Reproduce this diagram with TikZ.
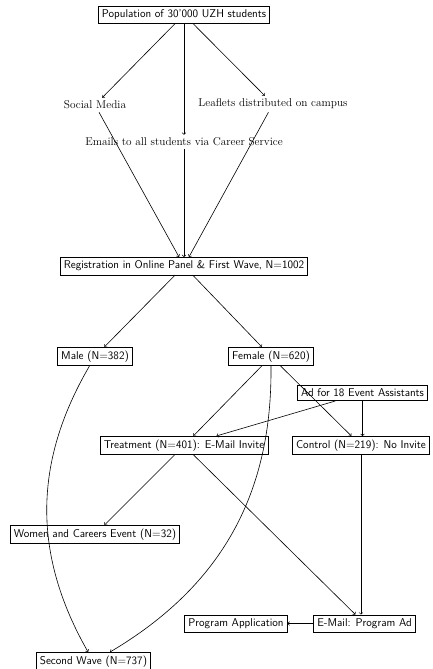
\documentclass[tikz,border=0pt]{standalone}
\begin{document}
\begin{tikzpicture}[x=1pt,y=1pt,
  box/.style={draw,semithick,font=\fontsize{11.3}{13}\sffamily,inner sep=3.6pt},
  lab/.style={font=\fontsize{11.3}{13}\rmfamily,inner sep=3pt},
  arr/.style={->,semithick}]
\useasboundingbox (0,0) rectangle (432,-669);
\node[box] (pop) at (184,-14.5) {Population of 30'000 UZH students};
\node[lab] (sm) at (95,-105) {Social Media};
\node[lab] (leaf) at (273,-104) {Leaflets distributed on campus};
\node[lab] (email) at (184,-142) {Emails to all students via Career Service};
\node[box] (reg) at (184,-266) {Registration in Online Panel \& First Wave, N=1002};
\node[box] (male) at (95,-356.5) {Male (N=382)};
\node[box] (female) at (271,-356.5) {Female (N=620)};
\node[box] (ad) at (362.5,-393) {Ad for 18 Event Assistants};
\node[box] (treat) at (184,-445.5) {Treatment (N=401): E-Mail Invite};
\node[box] (control) at (361,-445.5) {Control (N=219): No Invite};
\node[box] (women) at (95,-534.5) {Women and Careers Event (N=32)};
\node[box] (progapp) at (236,-623.5) {Program Application};
\node[box] (emailad) at (364.5,-623.5) {E-Mail: Program Ad};
\node[box] (sw) at (93.5,-661.5) {Second Wave (N=737)};
\draw[arr] (pop) -- (sm);
\draw[arr] (pop) -- (email);
\draw[arr] (pop) -- (leaf);
\draw[arr] (sm) -- (reg);
\draw[arr] (email) -- (reg);
\draw[arr] (leaf) -- (reg);
\draw[arr] (reg) -- (male);
\draw[arr] (reg) -- (female);
\draw[arr] (male) to[bend right=30] (sw);
\draw[arr] (female) to[bend left=30] (sw);
\draw[arr] (female) -- (treat);
\draw[arr] (female) -- (control);
\draw[arr] (ad) -- (treat);
\draw[arr] (ad) -- (ad |- control.north);
\draw[arr] (treat) -- (women);
\draw[arr] (treat) -- (emailad);
\draw[arr] (control) -- (control |- emailad.north);
\draw[arr] (emailad) -- (progapp);
\end{tikzpicture}
\end{document}
